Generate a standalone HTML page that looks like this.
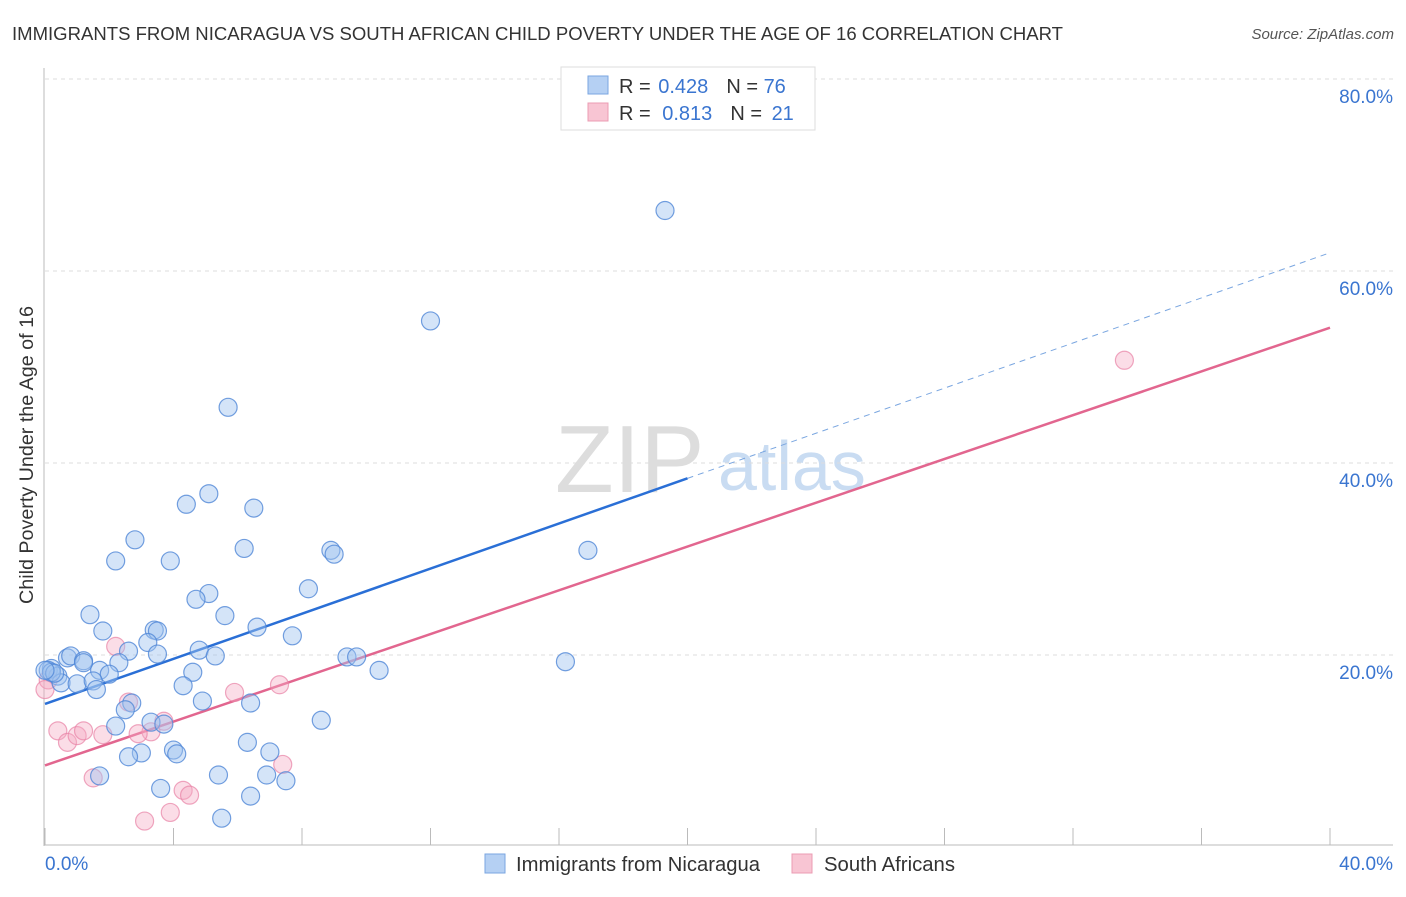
<!DOCTYPE html>
<html><head><meta charset="utf-8"><style>
body{margin:0;background:#fff;font-family:"Liberation Sans",sans-serif;}
svg text{font-family:"Liberation Sans",sans-serif;}
</style></head><body>
<svg id="chart" width="1406" height="892" xmlns="http://www.w3.org/2000/svg">
<text x="12" y="40" font-size="18" fill="#333" textLength="1051" lengthAdjust="spacingAndGlyphs">IMMIGRANTS FROM NICARAGUA VS SOUTH AFRICAN CHILD POVERTY UNDER THE AGE OF 16 CORRELATION CHART</text>
<text x="1394" y="39" font-size="15" fill="#555" text-anchor="end" font-style="italic">Source: ZipAtlas.com</text>
<text x="33" y="455" font-size="19" fill="#333" text-anchor="middle" transform="rotate(-90 33 455)" textLength="298" lengthAdjust="spacingAndGlyphs">Child Poverty Under the Age of 16</text>
<text x="555" y="492" font-size="96" fill="#ddd" font-family="Liberation Serif">ZIP</text>
<text x="718" y="490" font-size="70" fill="#c9dcf2">atlas</text>
<g id="grid"></g><g id="axes"></g><g id="lines"></g><g id="pts"></g>
<rect x="561" y="67" width="254" height="63" fill="#fff" stroke="#ddd"/>
<rect x="588" y="76" width="20" height="18" fill="#b5d0f3" stroke="#7aa6e0"/>
<rect x="588" y="103" width="20" height="18" fill="#f8c5d3" stroke="#eb9cb3"/>
<text x="619" y="93" font-size="20" fill="#333">R = <tspan fill="#3a75d0" dx="2">0.428</tspan><tspan dx="18" fill="#333">N = </tspan><tspan fill="#3a75d0">76</tspan></text>
<text x="619" y="120" font-size="20" fill="#333">R = <tspan fill="#3a75d0" dx="6">0.813</tspan><tspan dx="18" fill="#333">N = </tspan><tspan fill="#3a75d0" dx="4">21</tspan></text>
<rect x="485" y="854" width="20" height="19" fill="#b5d0f3" stroke="#7aa6e0"/>
<text x="516" y="871" font-size="20" fill="#333" textLength="244" lengthAdjust="spacingAndGlyphs">Immigrants from Nicaragua</text>
<rect x="792" y="854" width="20" height="19" fill="#f8c5d3" stroke="#eb9cb3"/>
<text x="824" y="871" font-size="20" fill="#333" textLength="131" lengthAdjust="spacingAndGlyphs">South Africans</text>
</svg>
<script>
const blueX=[19.3,12.0,5.7,5.1,4.4,6.5,2.8,2.2,3.9,6.2,8.9,9.0,16.9,8.2,5.1,4.7,5.6,1.4,6.6,1.8,3.4,3.5,7.7,3.2,2.6,3.5,4.8,5.3,9.4,9.7,16.2,2.3,0.7,0.8,1.2,1.2,0.2,0.1,1.7,2.0,4.6,10.4,0.4,0.5,1.0,1.5,1.6,4.3,2.7,4.9,6.4,2.5,3.3,3.7,2.2,8.6,6.3,4.0,3.0,4.1,2.6,7.0,1.7,5.4,6.9,7.5,3.6,6.4,5.5,0.2,0.3,0.0];
const blueY=[66.3,54.8,45.8,36.8,35.7,35.3,32.0,29.8,29.8,31.1,30.9,30.5,30.9,26.9,26.4,25.8,24.1,24.2,22.9,22.5,22.6,22.5,22.0,21.3,20.4,20.1,20.5,19.9,19.8,19.8,19.3,19.2,19.7,19.9,19.4,19.2,18.6,18.4,18.4,18.0,18.2,18.4,17.8,17.1,17.0,17.3,16.4,16.8,15.0,15.2,15.0,14.3,13.0,12.8,12.6,13.2,10.9,10.1,9.8,9.7,9.4,9.9,7.4,7.5,7.5,6.9,6.1,5.3,3.0,18.2,18.1,18.4];
const pinkX=[33.6,2.2,5.9,7.3,2.6,3.7,3.3,0.4,0.7,1.0,1.2,1.8,2.9,1.5,7.4,4.3,4.5,3.9,3.1,0.1,0.0];
const pinkY=[50.7,20.9,16.1,16.9,15.1,13.1,12.0,12.1,10.9,11.6,12.1,11.7,11.8,7.2,8.6,5.9,5.4,3.6,2.7,17.4,16.4];
const blueTrend=[14.9,1.175];
const pinkTrend=[8.5,1.14];
const yTicks=[20,40,60,80];
const xTickVals=[0,4,8,12,16,20,24,28,32,36,40];
const NS="http://www.w3.org/2000/svg";
const X=v=>45+v*32.125, Y=v=>847-v*9.6;
function mk(tag,attrs,parent){const e=document.createElementNS(NS,tag);for(const k in attrs)e.setAttribute(k,attrs[k]);document.getElementById(parent).appendChild(e);return e;}
yTicks.forEach(t=>{
 const l=mk('line',{x1:45,x2:1393,y1:Y(t),y2:Y(t),stroke:'#ddd','stroke-dasharray':'4,4'},'grid');
 
 
 const tx=mk('text',{x:1393,y:Y(t)+24,'font-size':19,fill:'#3a75d0','text-anchor':'end'},'grid');
 tx.textContent=t.toFixed(1)+'%';
 
 
});
let a=mk('line',{x1:44,x2:44,y1:68,y2:846,stroke:'#bbb'},'axes');


a=mk('line',{x1:44,x2:1393,y1:845,y2:845,stroke:'#bbb'},'axes');


xTickVals.forEach(t=>{
 const l=mk('line',{x1:X(t),x2:X(t),y1:828,y2:845,stroke:'#bbb'},'axes');
 
 
});
[[0,'start',45],[40,'end',1393]].forEach(([t,anc,px])=>{
 const tx=mk('text',{x:px,y:870,'font-size':19,fill:'#3a75d0','text-anchor':anc},'axes');
 tx.textContent=t.toFixed(1)+'%';
 
 
});
let tl=mk('line',{x1:X(0),y1:Y(blueTrend[0]),x2:X(20),y2:Y(blueTrend[0]+20*blueTrend[1]),stroke:'#2a6fd6','stroke-width':2.5},'lines');


tl=mk('line',{x1:X(20),y1:Y(blueTrend[0]+20*blueTrend[1]),x2:X(40),y2:Y(blueTrend[0]+40*blueTrend[1]),stroke:'#7aa6e0','stroke-width':1,'stroke-dasharray':'6,5'},'lines');


tl=mk('line',{x1:X(0),y1:Y(pinkTrend[0]),x2:X(40),y2:Y(pinkTrend[0]+40*pinkTrend[1]),stroke:'#e2668f','stroke-width':2.5},'lines');


pinkX.forEach((v,i)=>{
 const c=mk('circle',{cx:X(v),cy:Y(pinkY[i]),r:9,fill:'rgba(245,170,195,0.4)',stroke:'rgba(232,130,165,0.7)','stroke-width':1.2},'pts');
 
 
});
blueX.forEach((v,i)=>{
 const c=mk('circle',{cx:X(v),cy:Y(blueY[i]),r:9,fill:'rgba(160,195,240,0.45)',stroke:'rgba(80,135,215,0.8)','stroke-width':1.2},'pts');
 
 
});
</script>
</body></html>
